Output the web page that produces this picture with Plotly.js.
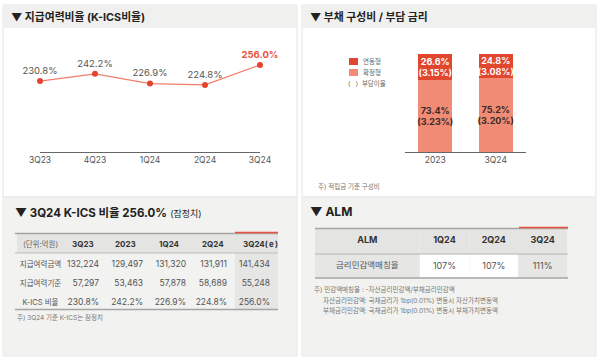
<!DOCTYPE html>
<html><head><meta charset="utf-8">
<script src="https://cdn.plot.ly/plotly-3.0.1.min.js"></script>
<style>html,body{margin:0;padding:0;background:#fff}#chart{width:600px;height:362px}</style>
</head><body><div id="chart"></div>
<script>
// ---- data ----
const quarters = ['3Q23', '4Q23', '1Q24', '2Q24', '3Q24'];
const kicsRatio = [230.8, 242.2, 226.9, 224.8, 256.0];

const barCats = ['2023', '3Q24'];
const fixedShare = [73.4, 75.2];   // 확정형
const fixedRate = [3.23, 3.20];
const floatShare = [26.6, 24.8];   // 연동형
const floatRate = [3.15, 3.08];

const tblCols = ['3Q23', '2023', '1Q24', '2Q24', '3Q24(\u2009e\u2009)'];
const tblRowLabels = ['지급여력금액', '지급여력기준', 'K-ICS\u00a0비율'];
const availCapital = [132224, 129497, 131320, 131911, 141434];
const requiredCapital = [57297, 53463, 57878, 58689, 55248];
const tblRatio = [230.8, 242.2, 226.9, 224.8, 256.0];

const almCols = ['1Q24', '2Q24', '3Q24'];
const almLabel = '금리민감액매칭율';
const almValues = [107, 107, 111];

// ---- styling ----
const FONT = 'Inter, Noto Sans CJK KR, sans-serif';
const RED = '#e9523c';
const DARK = '#e1462f';
const LIGHT = '#f08b75';
const W = 600, H = 362;
const X = v => v / W, Y = v => 1 - v / H;
const clear = 'rgba(0,0,0,0)';

const fmt = n => n.toLocaleString('en-US');
const pct1 = v => v.toFixed(1) + '%';

// ---- traces ----
const n = kicsRatio.length;
const lineTrace = {
  type: 'scatter', mode: 'lines+markers+text',
  x: quarters, y: kicsRatio, xaxis: 'x', yaxis: 'y',
  line: {color: '#f07e6a', width: 1.3},
  marker: {color: '#e4442f', size: 6},
  text: kicsRatio.map((v, i) => i === n - 1 ? '<b>' + pct1(v) + '</b>' : pct1(v)),
  textposition: 'top center',
  textfont: {family: FONT, size: 9.5,
    color: kicsRatio.map((v, i) => i === n - 1 ? RED : '#555')},
  cliponaxis: false, hoverinfo: 'skip', showlegend: false
};

const barFixed = {
  type: 'bar', name: '확정형', x: barCats, y: fixedShare, xaxis: 'x2', yaxis: 'y2',
  marker: {color: LIGHT, line: {width: 0}}, width: 0.56,
  text: fixedShare.map((v, i) => '<b>' + pct1(v) + '<br>(' + fixedRate[i].toFixed(2) + '%)</b>'),
  textposition: 'inside', insidetextanchor: 'middle', constraintext: 'none', textangle: 0,
  textfont: {family: FONT, size: 9, color: '#3a2a28'},
  hoverinfo: 'skip', showlegend: false
};
const barFloat = {
  type: 'bar', name: '연동형', x: barCats, y: floatShare, xaxis: 'x2', yaxis: 'y2',
  marker: {color: DARK, line: {width: 0}}, width: 0.56,
  text: floatShare.map((v, i) => '<b>' + pct1(v) + '<br>(' + floatRate[i].toFixed(2) + '%)</b>'),
  textposition: 'inside', insidetextanchor: 'middle', constraintext: 'none', textangle: 0,
  textfont: {family: FONT, size: 9, color: '#ffffff'},
  hoverinfo: 'skip', showlegend: false
};

// K-ICS table
const tblValues = [tblRowLabels].concat(tblCols.map((c, i) =>
  [fmt(availCapital[i]), fmt(requiredCapital[i]), pct1(tblRatio[i])]));
const kicsTable = {
  type: 'table',
  domain: {x: [X(17), X(278)], y: [Y(312), Y(233)]},
  columnwidth: [47, 43, 44, 43, 41, 43],
  header: {
    values: ['(단위:억원)'].concat(tblCols),
    height: 20,
    align: ['center', 'left', 'left', 'left', 'left', 'left'],
    fill: {color: '#e4e4e2'},
    line: {color: clear, width: 0},
    font: {family: FONT, size: [7.5, 8, 8, 8, 8, 8],
      color: ['#666', '#333', '#333', '#333', '#333', '#333'],
      weight: ['normal', 'bold', 'bold', 'bold', 'bold', 'bold']}
  },
  cells: {
    values: tblValues,
    height: 19,
    align: ['center', 'right', 'right', 'right', 'right', 'right'],
    fill: {color: [clear, clear, clear, clear, clear, '#e6e6e4']},
    line: {color: clear, width: 0},
    font: {family: FONT, size: [7.5, 8.5, 8.5, 8.5, 8.5, 8.5], color: '#555'}
  }
};

// ALM table
const almTable = {
  type: 'table',
  domain: {x: [X(315), X(568)], y: [Y(280), Y(228)]},
  columnwidth: [105, 50, 49, 49],
  header: {
    values: ['ALM'].concat(almCols),
    height: 26,
    align: 'center',
    fill: {color: '#e4e4e2'},
    line: {color: clear, width: 0},
    font: {family: FONT, size: 9, color: '#333', weight: 'bold'}
  },
  cells: {
    values: [[almLabel]].concat(almValues.map(v => [v + '%'])),
    height: 24,
    align: 'center',
    fill: {color: ['#e6e6e4', '#ffffff', '#ffffff', '#e6e6e4']},
    line: {color: clear, width: 0},
    font: {family: FONT, size: [8.5, 9, 9, 9], color: '#555'}
  }
};

// ---- shapes ----
const rect = (x0, y0, x1, y1, fill, line, layer) => ({
  type: 'rect', xref: 'paper', yref: 'paper',
  x0: X(x0), x1: X(x1), y0: Y(y1), y1: Y(y0),
  fillcolor: fill, line: {color: line || clear, width: line ? 1 : 0}, layer: layer || 'below'
});
const hline = (x0, x1, y, color, width) => ({
  type: 'line', xref: 'paper', yref: 'paper',
  x0: X(x0), x1: X(x1), y0: Y(y), y1: Y(y),
  line: {color: color, width: width}, layer: 'above'
});

const shapes = [
  rect(3, 5, 297, 197, '#ffffff', '#e4e4e4'),
  rect(3, 5, 297, 28, '#f0f0ee'),
  rect(302, 5, 596, 197, '#ffffff', '#e4e4e4'),
  rect(302, 5, 596, 28, '#f0f0ee'),
  rect(3, 197, 297, 356, '#f2f2f0', '#e8e8e8'),
  rect(302, 197, 596, 356, '#f2f2f0', '#e8e8e8'),
  // legend squares
  rect(349, 58, 358, 65, DARK),
  rect(349, 69, 358, 76, LIGHT),
  // K-ICS table rules
  hline(15, 278, 233.5, '#a5a5a5', 1.5),
  hline(235, 278, 232.5, RED, 1.5),
  hline(15, 278, 253, '#bdbdbd', 1),
  hline(15, 278, 309.5, '#a5a5a5', 1.5),
  // ALM table rules
  hline(315, 568, 228.5, '#a5a5a5', 1.5),
  hline(519, 568, 227.5, RED, 1.5),
  hline(315, 568, 254, '#b5b5b5', 1),
  hline(315, 568, 278, '#a5a5a5', 1.5)
];

// ---- annotations ----
const txt = (x, y, text, size, color, extra) => Object.assign({
  xref: 'paper', yref: 'paper', x: X(x), y: Y(y), text: text, showarrow: false,
  xanchor: 'left', yanchor: 'middle', font: {family: FONT, size: size, color: color}
}, extra || {});

const annotations = [
  txt(9, 17, '<b>▼ 지급여력비율 (K-ICS비율)</b>', 10.8, '#222'),
  txt(308, 17, '<b>▼ 부채 구성비 / 부담 금리</b>', 10.8, '#222'),
  txt(13, 213, '<b>▼ 3Q24 K-ICS 비율 256.0%</b> <span style="font-size:9px">(잠정치)</span>', 11.5, '#222'),
  txt(308, 211, '<b>▼ ALM</b>', 12, '#222'),
  // legend
  txt(361, 61.5, '연동형', 6.5, '#666'),
  txt(361, 72.5, '확정형', 6.5, '#666'),
  txt(346, 83, '(   )  부담이율', 6.5, '#666'),
  // notes
  txt(316, 186, '주) 적립금 기준 구성비', 6.5, '#777'),
  txt(15, 317, '주) 3Q24 기준 K-ICS는 잠정치', 6.5, '#777'),
  txt(312, 289, '주) 민감액매칭율 : -자산금리민감액/부채금리민감액', 6.5, '#777'),
  txt(321, 300, '자산금리민감액: 국채금리가 1bp(0.01%) 변동시 자산가치변동액', 6.5, '#777'),
  txt(321, 310.5, '부채금리민감액: 국채금리가 1bp(0.01%) 변동시 부채가치변동액', 6.5, '#777')
];

const axisCommon = {showgrid: false, zeroline: false, fixedrange: true};
const layout = {
  width: W, height: H, margin: {l: 0, r: 0, t: 0, b: 0},
  paper_bgcolor: '#ffffff', plot_bgcolor: clear,
  showlegend: false, barmode: 'stack',
  font: {family: FONT},
  xaxis: Object.assign({}, axisCommon, {domain: [X(40), X(260)], anchor: 'y', type: 'category',
    range: [0, n - 1], showline: true, linecolor: '#666', linewidth: 1, ticks: '',
    tickfont: {family: FONT, size: 8.5, color: '#555'}}),
  yaxis: Object.assign({}, axisCommon, {domain: [Y(152), Y(40)], anchor: 'x', range: [120, 295], visible: false}),
  xaxis2: Object.assign({}, axisCommon, {domain: [X(405), X(526)], anchor: 'y2', type: 'category',
    range: [-0.5, 1.5], showline: true, linecolor: '#666', linewidth: 1, ticks: '',
    tickfont: {family: FONT, size: 8.5, color: '#555'}}),
  yaxis2: Object.assign({}, axisCommon, {domain: [Y(152), Y(50)], anchor: 'x2', range: [0, 104.08], visible: false}),
  shapes: shapes,
  annotations: annotations
};

Plotly.newPlot('chart', [lineTrace, barFixed, barFloat, kicsTable, almTable], layout,
  {displayModeBar: false, staticPlot: true});
</script></body></html>
